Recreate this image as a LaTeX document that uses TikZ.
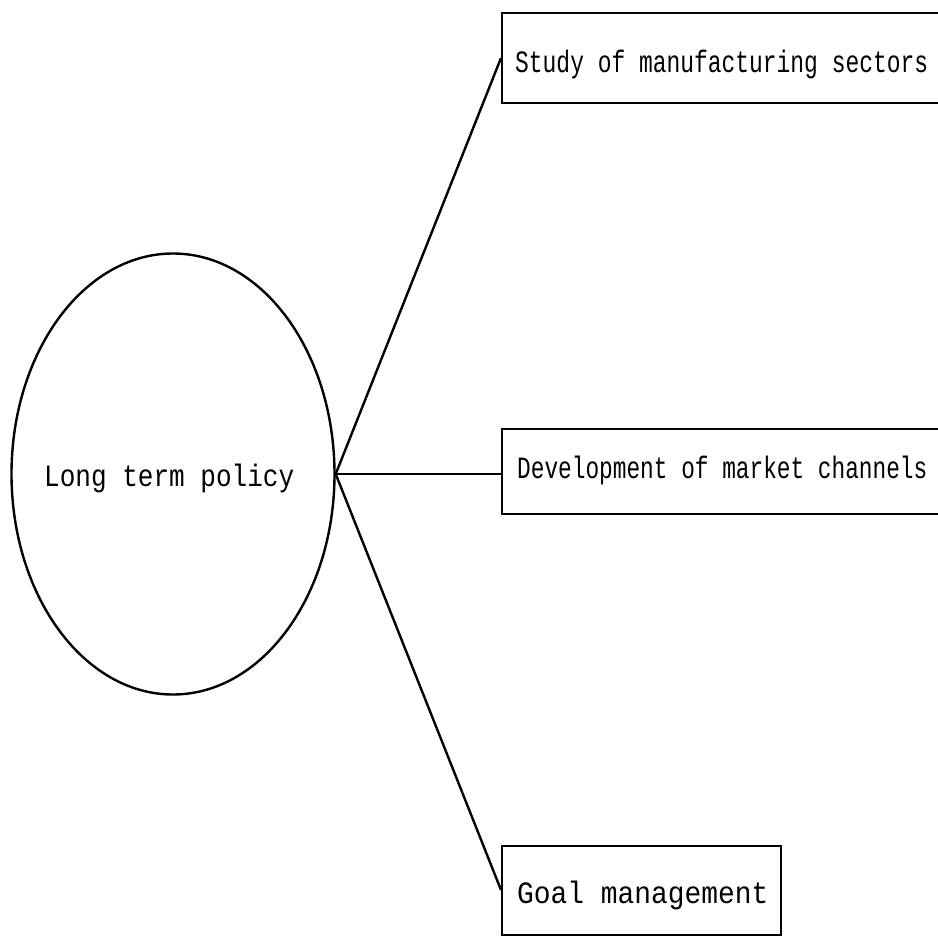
\documentclass[tikz,border=0pt]{standalone}
\usepackage{fontspec}
\usepackage{graphicx}
\newfontfamily\dotfont{Liberation Mono}
\usetikzlibrary{calc,shapes.geometric}
\tikzset{
  conn/.style={draw=black,line width=2.4pt},
  boxnode/.style={draw=black,line width=2.4pt,rectangle,inner sep=0pt,anchor=north west},
  lbl/.style={anchor=base west,inner sep=0pt,font=\dotfont\fontsize{31}{31}\selectfont},
}
\begin{document}
\begin{tikzpicture}[x=1pt,y=-1pt]
\useasboundingbox (0,0) rectangle (938,937);
\clip (0,0) rectangle (938,937);
\fill[white] (0,0) rectangle (938,937);
\node[draw=black,line width=2.4pt,ellipse,minimum width=323pt,minimum height=441pt,inner sep=0pt] (ell) at (173,474) {};
\node[boxnode,minimum width=450pt,minimum height=90pt] (b1) at (501,12) {};
\node[boxnode,minimum width=450pt,minimum height=85pt] (b2) at (501,428) {};
\node[boxnode,minimum width=279pt,minimum height=89pt] (b3) at (501,845) {};
\node[lbl] (t0) at (44,486) {\scalebox{0.84}[1]{Long term policy}};
\node[lbl] (t1) at (515,72) {\scalebox{0.74}[1]{Study of manufacturing sectors}};
\node[lbl] (t2) at (517,478) {\scalebox{0.735}[1]{Development of market channels}};
\node[lbl] (t3) at (517,903) {\scalebox{0.90}[1]{Goal management}};
\coordinate (c1) at ($(b1.north west)+(0,46)$);
\coordinate (c2) at ($(b2.north west)+(0,46)$);
\coordinate (c3) at ($(b3.north west)+(0,45)$);
\draw[conn] (ell.east) -- (c1);
\draw[conn] (ell.east) -- (c2);
\draw[conn] (ell.east) -- (c3);
\end{tikzpicture}
\end{document}
